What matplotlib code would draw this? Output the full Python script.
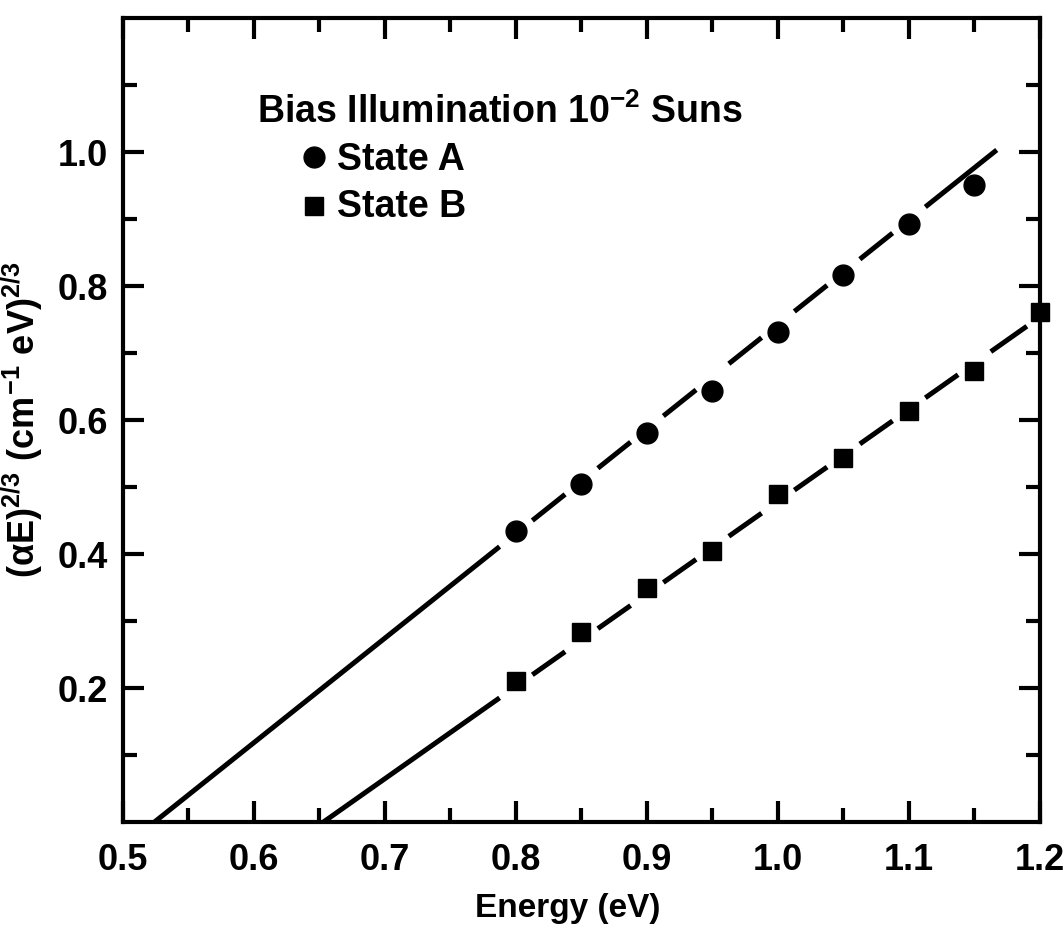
import numpy as np
import matplotlib.pyplot as plt
from matplotlib.ticker import FixedLocator

plt.rcParams['font.family'] = ['Liberation Sans', 'DejaVu Sans']
plt.rcParams['font.weight'] = 'bold'
plt.rcParams['mathtext.fontset'] = 'custom'
plt.rcParams['mathtext.rm'] = 'Liberation Sans:bold'
plt.rcParams['mathtext.it'] = 'Liberation Sans:bold'
plt.rcParams['mathtext.bf'] = 'Liberation Sans:bold'

# Data
energy_a = [0.80, 0.85, 0.90, 0.95, 1.00, 1.05, 1.10, 1.15]
state_a = [0.435, 0.505, 0.580, 0.643, 0.731, 0.817, 0.892, 0.951]

energy_b = [0.80, 0.85, 0.90, 0.95, 1.00, 1.05, 1.10, 1.15, 1.20]
state_b = [0.210, 0.283, 0.350, 0.405, 0.489, 0.544, 0.613, 0.673, 0.761]

# fitted straight lines: x-intercept, slope, end of the drawn line
fit_a = (0.524, 1.56, 1.167)
fit_b = (0.653, 1.378, 1.19)

fig = plt.figure(figsize=(10.64, 9.3), dpi=100)
ax = fig.add_axes([0.1156, 0.1161, 0.8618, 0.8645])

lw = 3.6
gap = 0.0125


def draw_fit(xs, fit):
    x0, slope, x_end = fit
    # solid part up to the first point, dashes between the points
    starts = [x0] + [x + gap for x in xs]
    ends = [x - gap for x in xs] + [x_end]
    for s, e in zip(starts, ends):
        if e <= s:
            continue
        xx = np.array([s, e])
        ax.plot(xx, slope * (xx - x0), color='black', lw=lw,
                solid_capstyle='butt')


draw_fit(energy_a[:-1], fit_a)
draw_fit(energy_b[:-1], fit_b)

ax.plot(energy_a, state_a, 'o', color='black', ms=15, zorder=3)
ax.plot(energy_b, state_b, 's', color='black', ms=13.5, zorder=3,
        clip_on=False)

ax.set_xlim(0.5, 1.2)
ax.set_ylim(0, 1.2)
ax.xaxis.set_major_locator(FixedLocator(np.arange(0.5, 1.21, 0.1)))
ax.xaxis.set_minor_locator(FixedLocator(np.arange(0.55, 1.2, 0.1)))
ax.yaxis.set_major_locator(FixedLocator([0.2, 0.4, 0.6, 0.8, 1.0]))
ax.yaxis.set_minor_locator(FixedLocator([0.1, 0.3, 0.5, 0.7, 0.9, 1.1]))
ax.set_xticklabels(['0.5', '0.6', '0.7', '0.8', '0.9', '1.0', '1.1', '1.2'])
ax.set_yticklabels(['0.2', '0.4', '0.6', '0.8', '1.0'])

ax.tick_params(which='both', direction='in', top=True, right=True,
               width=3, labelsize=26)
ax.tick_params(axis='x', pad=15)
ax.tick_params(axis='y', pad=11)
ax.tick_params(which='major', length=15)
ax.tick_params(which='minor', length=10)
for sp in ax.spines.values():
    sp.set_linewidth(3)

ax.set_xlabel('Energy (eV)', fontsize=24, fontweight='bold')
ax.xaxis.set_label_coords(0.485, -0.088)
ax.set_ylabel(r'$(\alpha E)^{2/3}\ (cm^{-1}\ eV)^{2/3}$', fontsize=26)
ax.yaxis.set_label_coords(-0.085, 0.5)

# legend block
ax.text(0.146, 0.869, r'Bias Illumination 10$^{-2}$ Suns', transform=ax.transAxes,
        fontsize=27, va='baseline', ha='left')
ax.plot([0.208], [0.827], 'o', color='black', ms=15, transform=ax.transAxes)
ax.plot([0.208], [0.766], 's', color='black', ms=12.5, transform=ax.transAxes)
ax.text(0.2334, 0.811, 'State A', transform=ax.transAxes,
        fontsize=27, va='baseline', ha='left')
ax.text(0.2334, 0.7525, 'State B', transform=ax.transAxes,
        fontsize=27, va='baseline', ha='left')

fig.savefig('out.png', dpi=100)
